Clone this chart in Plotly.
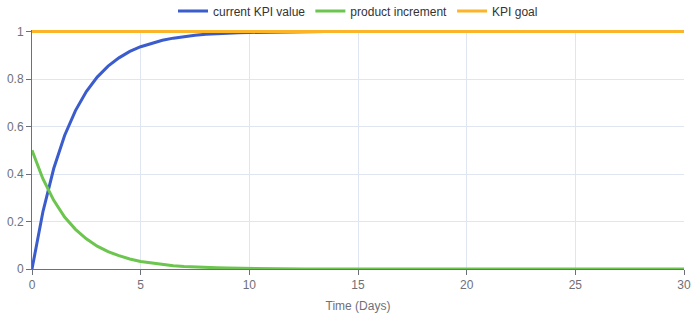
import plotly.graph_objects as go

days = [i * 0.5 for i in range(61)]

current_kpi = [0.0, 0.240, 0.423, 0.562, 0.667, 0.747, 0.808, 0.854, 0.889, 0.916,
               0.936, 0.951, 0.963, 0.972, 0.979, 0.984, 0.988, 0.991, 0.993, 0.995,
               0.996, 0.997, 0.998, 0.998, 0.999, 0.999, 0.999] + [1.0] * 34

product_increment = [0.5, 0.380, 0.289, 0.219, 0.167, 0.127, 0.096, 0.073, 0.056, 0.042,
                     0.032, 0.025, 0.019, 0.014, 0.011, 0.008, 0.006, 0.005, 0.004, 0.003,
                     0.002, 0.002, 0.001, 0.001, 0.001] + [0.0] * 36

kpi_goal = [1.0] * 61

x_ticks = [0, 5, 10, 15, 20, 25, 30]
y_ticks = [0, 0.2, 0.4, 0.6, 0.8, 1]

axis_gray = "#6e7079"
grid = "#e0e6f1"

fig = go.Figure()
fig.add_trace(go.Scatter(x=days, y=current_kpi, mode="lines", name="current KPI value",
                         line=dict(color="#3a5ccc", width=3)))
fig.add_trace(go.Scatter(x=days, y=product_increment, mode="lines", name="product increment",
                         line=dict(color="#6cc54e", width=3)))
fig.add_trace(go.Scatter(x=days, y=kpi_goal, mode="lines", name="KPI goal",
                         line=dict(color="#fbb52a", width=3)))

fig.update_layout(
    width=700, height=329,
    margin=dict(l=32, r=16, t=29.5, b=60, autoexpand=False),
    paper_bgcolor="white", plot_bgcolor="white",
    font=dict(family="Liberation Sans, Arial, sans-serif", size=12, color=axis_gray),
    showlegend=True,
    legend=dict(orientation="h", x=0.5, xanchor="center", y=1 - 11 / 329, yanchor="middle",
                yref="container", itemwidth=30, font=dict(size=12, color="#333333"),
                bgcolor="rgba(0,0,0,0)", tracegroupgap=0),
    hovermode=False,
)

fig.update_xaxes(range=[0, 30], tickvals=x_ticks, showgrid=True, gridcolor=grid,
                 showline=True, linecolor=axis_gray, linewidth=1,
                 ticks="outside", ticklen=5, tickcolor=axis_gray, zeroline=False,
                 title=dict(text="Time (Days)", standoff=10, font=dict(size=12, color=axis_gray)))
fig.update_yaxes(range=[0, 1.0063], tickvals=y_ticks, ticktext=["0", "0.2", "0.4", "0.6", "0.8", "1"],
                 showgrid=True, gridcolor=grid,
                 showline=True, linecolor=axis_gray, linewidth=1, mirror=False,
                 ticks="outside", ticklen=5, tickcolor=axis_gray, zeroline=False)

fig.write_html("out.html")
